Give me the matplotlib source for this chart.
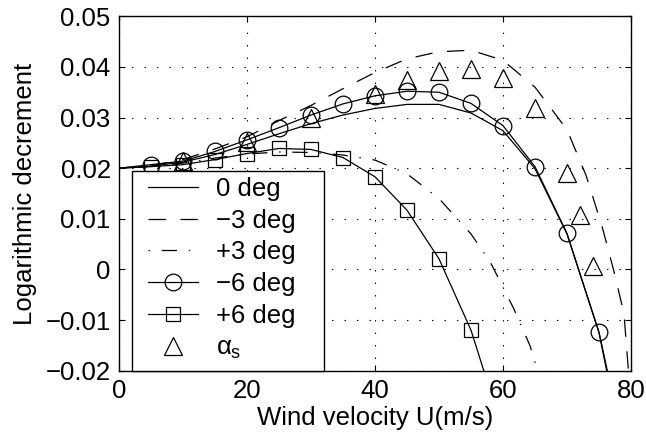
import matplotlib
matplotlib.use("Agg")
import matplotlib.pyplot as plt
from matplotlib.patches import Rectangle

plt.rcParams['font.family'] = ['Liberation Sans', 'DejaVu Sans']
plt.rcParams['mathtext.fontset'] = 'custom'
plt.rcParams['mathtext.rm'] = 'Liberation Sans'
plt.rcParams['mathtext.it'] = 'Liberation Sans'
plt.rcParams['lines.scale_dashes'] = False

# ---- data ----
u_0 = [0, 5, 10, 15, 20, 25, 30, 35, 40, 45, 50, 55, 60, 65, 70, 75, 76.2]
d_0 = [0.0200, 0.0204, 0.0212, 0.0227, 0.0247, 0.0268, 0.0288, 0.0305, 0.0318,
       0.0326, 0.0326, 0.0309, 0.0274, 0.0199, 0.0070, -0.0125, -0.0200]

u_m3 = [0, 5, 10, 15, 20, 25, 30, 35, 40, 45, 50, 55, 60, 65, 70, 73, 75.5, 77.3, 78.9, 79.6]
d_m3 = [0.0200, 0.0205, 0.0217, 0.0238, 0.0262, 0.0294, 0.0324, 0.0357, 0.0389,
        0.0416, 0.0430, 0.0433, 0.0413, 0.0360, 0.0276, 0.0185, 0.0084, -0.0002,
        -0.0087, -0.0200]

u_p3 = [0, 5, 10, 15, 20, 25, 30, 35, 40, 45, 50, 55, 58, 61.7, 64.2, 65.4]
d_p3 = [0.0200, 0.0203, 0.0210, 0.0220, 0.0228, 0.0232, 0.0231, 0.0226, 0.0216,
        0.0189, 0.0140, 0.0070, 0.0015, -0.0078, -0.0150, -0.0200]

u_m6 = [0, 5, 10, 15, 20, 25, 30, 35, 40, 45, 50, 55, 60, 65, 70, 75, 76.3]
d_m6 = [0.0200, 0.0207, 0.0214, 0.0233, 0.0256, 0.0280, 0.0305, 0.0327, 0.0343,
        0.0352, 0.0350, 0.0328, 0.0284, 0.0203, 0.0071, -0.0124, -0.0200]

u_p6 = [0, 5, 10, 15, 20, 25, 30, 35, 40, 45, 50, 55, 57.0]
d_p6 = [0.0200, 0.0203, 0.0207, 0.0217, 0.0229, 0.0239, 0.0237, 0.0221, 0.0183,
        0.0117, 0.0021, -0.0120, -0.0200]

u_as = [10, 20, 30, 40, 45, 50, 55, 60, 65, 70, 72, 74]
d_as = [0.0214, 0.0252, 0.0299, 0.0347, 0.0375, 0.0391, 0.0396, 0.0378, 0.0318,
        0.0190, 0.0107, 0.0007]

labels = ['0 deg', '\u22123 deg', '+3 deg', '\u22126 deg', '+6 deg', r'$\alpha_\mathrm{s}$']
x_ticks = [0, 20, 40, 60, 80]
y_ticks = [-0.02, -0.01, 0, 0.01, 0.02, 0.03, 0.04, 0.05]
y_ticklabels = ['\u22120.02', '\u22120.01', '0', '0.01', '0.02', '0.03', '0.04', '0.05']

# ---- figure ----
fig = plt.figure(figsize=(6.46, 4.43), dpi=100)
ax = fig.add_axes([119/646, 1-370.7/443, 512/646, 354.4/443])

lw = 0.9
fs = 18.5
ax.plot(u_0, d_0, color='k', lw=lw, label=labels[0])
ax.plot(u_m3, d_m3, color='k', lw=lw, linestyle=(0, (12.5, 10.5)), label=labels[1])
ax.plot(u_p3, d_p3, color='k', lw=lw, linestyle=(19.5, (11, 8.5, 1, 8.5)), label=labels[2])
ax.plot(u_m6, d_m6, color='k', lw=lw, marker='o', markersize=12, markerfacecolor='none',
        markeredgewidth=lw, markevery=list(range(1, 16)), label=labels[3])
ax.plot(u_p6, d_p6, color='k', lw=lw, marker='s', markersize=10, markerfacecolor='none',
        markeredgewidth=lw, markevery=list(range(1, 12)), label=labels[4])
ax.plot(u_as, d_as, color='k', lw=0, marker='^', markersize=13, markerfacecolor='none',
        markeredgewidth=lw, label=labels[5])

ax.set_xlim(0, 80)
ax.set_ylim(-0.02, 0.05)
ax.set_xticks(x_ticks)
ax.set_yticks(y_ticks)
ax.set_yticklabels(y_ticklabels)
ax.tick_params(direction='in', length=4, width=0.8, top=True, right=True,
               labelsize=fs, pad=6)
ax.grid(True, color='k', lw=0.8, linestyle=(0, (1, 8)))
for s in ax.spines.values():
    s.set_linewidth(1.0)

ax.set_xlabel('Wind velocity U(m/s)', fontsize=fs, labelpad=2)
ax.set_ylabel('Logarithmic decrement', fontsize=fs, labelpad=6)

# legend box (Matlab-style, extra right padding)
box = Rectangle((13/512, 0.0), 192/512, 199.7/354.4, transform=ax.transAxes,
                facecolor='white', edgecolor='k', lw=1.0, zorder=4.5, clip_on=False)
ax.add_patch(box)
leg = ax.legend(loc='upper left', bbox_to_anchor=(29/512, (370.7-177)/354.4),
                borderaxespad=0, borderpad=0, fontsize=fs, frameon=False,
                handlelength=1.95, handletextpad=0.7, labelspacing=0.30)
leg.set_zorder(5)

fig.savefig('out.png', dpi=100)
